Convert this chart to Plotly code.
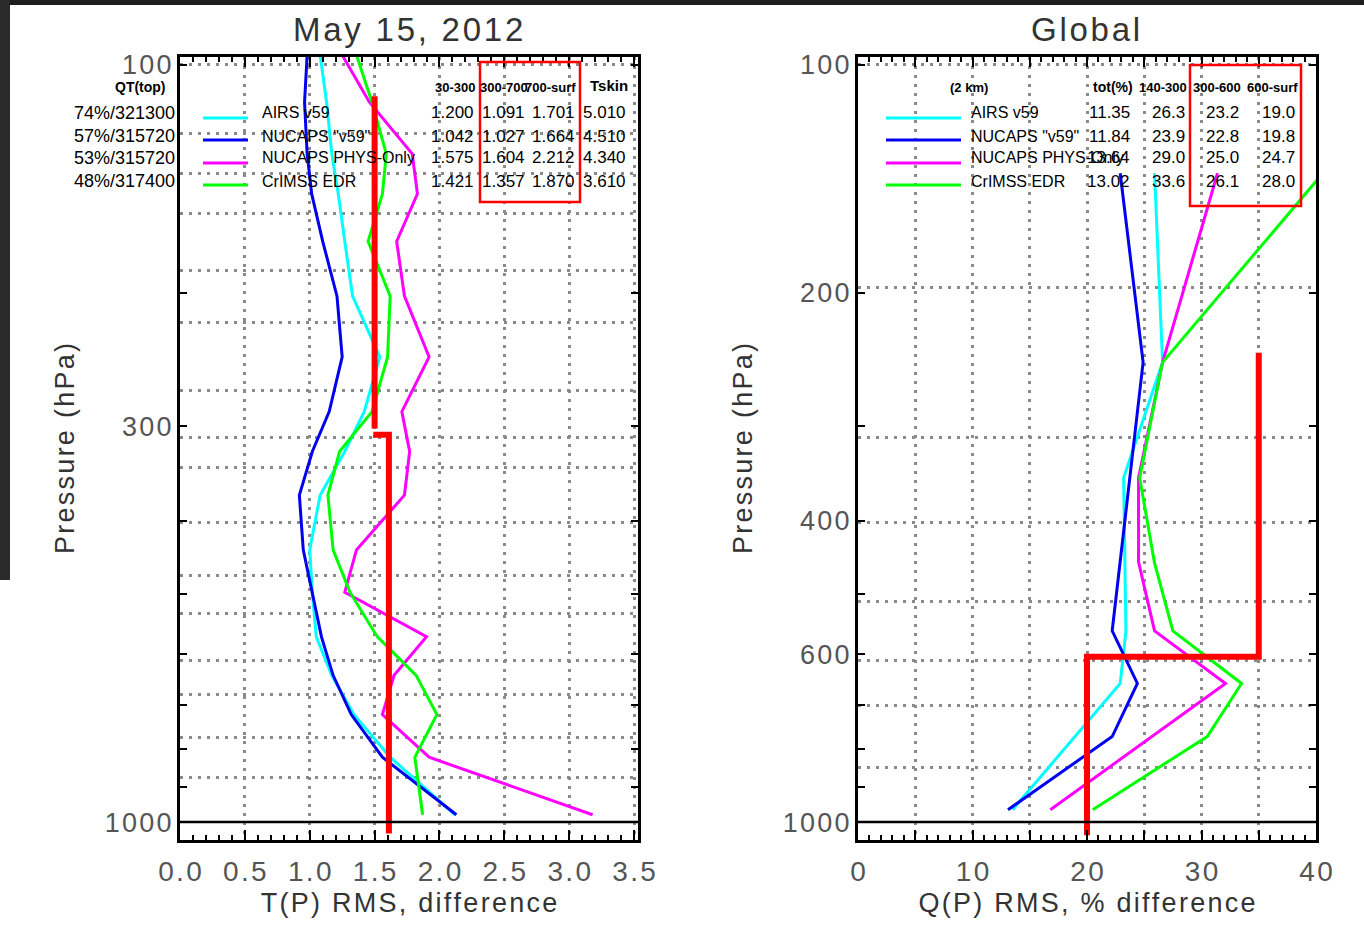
import math
import plotly.graph_objects as go

W, H = 1364, 943

# ---------------- data: temperature panel ----------------
P_T = [97, 112, 131, 148, 171, 202, 243, 287, 324, 370, 437, 497, 569, 640, 721, 821, 978]
T_AIRS = [1.08, 1.13, 1.17, 1.22, 1.27, 1.33, 1.54, 1.42, 1.27, 1.08, 1.00, 1.02, 1.05, 1.17, 1.34, 1.62, 2.12]
T_NUCAPS = [0.98, 0.96, 0.98, 1.015, 1.10, 1.21, 1.25, 1.15, 1.02, 0.92, 0.95, 1.02, 1.09, 1.18, 1.32, 1.56, 2.13]
T_PHYS = [1.25, 1.46, 1.79, 1.83, 1.67, 1.73, 1.92, 1.71, 1.77, 1.73, 1.36, 1.27, 1.90, 1.65, 1.56, 1.92, 3.18]
T_CRIMSS = [1.36, 1.48, 1.59, 1.56, 1.45, 1.62, 1.60, 1.48, 1.23, 1.14, 1.18, 1.31, 1.52, 1.82, 1.98, 1.81, 1.87]
T_REQ_X = [1.5, 1.5, None, 1.49, 1.61, 1.61]
T_REQ_P = [110, 302, None, 308, 308, 1035]

# ---------------- data: moisture panel ----------------
P_Q_AIRS = [139, 247, 351, 559, 656, 963]
Q_AIRS = [25.9, 26.6, 23.2, 23.4, 22.9, 13.5]
P_Q_NUCAPS = [139, 247, 559, 656, 771, 963]
Q_NUCAPS = [22.9, 24.9, 22.2, 24.4, 22.2, 13.1]
P_Q_PHYS = [139, 247, 351, 453, 559, 656, 963]
Q_PHYS = [31.4, 26.6, 24.5, 24.5, 25.9, 32.1, 16.8]
P_Q_CRIMSS = [139, 247, 351, 455, 559, 656, 771, 963]
Q_CRIMSS = [40.6, 26.6, 24.6, 25.9, 27.5, 33.5, 30.5, 20.5]
Q_REQ_X = [35, 35, 20, 20]
Q_REQ_P = [240, 605, 605, 1041]

# ---------------- tables / legend text ----------------
SERIES = ["AIRS v59", "NUCAPS \"v59\"", "NUCAPS PHYS-Only", "CrIMSS EDR"]
COLORS = ["#00FFFF", "#0000F0", "#FF00FF", "#00FF00"]
QT_TOP = ["74%/321300", "57%/315720", "53%/315720", "48%/317400"]
T_HEAD = ["30-300", "300-700", "700-surf", "Tskin"]
T_TABLE = [["1.200", "1.091", "1.701", "5.010"],
           ["1.042", "1.027", "1.664", "4.510"],
           ["1.575", "1.604", "2.212", "4.340"],
           ["1.421", "1.357", "1.870", "3.610"]]
Q_HEAD = ["tot(%)", "140-300", "300-600", "600-surf"]
Q_TABLE = [["11.35", "26.3", "23.2", "19.0"],
           ["11.84", "23.9", "22.8", "19.8"],
           ["13.64", "29.0", "25.0", "24.7"],
           ["13.02", "33.6", "26.1", "28.0"]]

# axis ticks / grids
T_XTICKS = [0, 0.5, 1.0, 1.5, 2.0, 2.5, 3.0, 3.5]
Q_XTICKS = [0, 5, 10, 15, 20, 25, 30, 35, 40]
Q_XLABELS = ["0", "", "10", "", "20", "", "30", "", "40"]
P_TICKS = [100, 200, 300, 400, 500, 600, 700, 800, 900, 1000]
T_PLABELS = ["100", "", "300", "", "", "", "", "", "", "1000"]
Q_PLABELS = ["100", "200", "", "400", "", "600", "", "", "", "1000"]
T_PGRID = [100, 123, 139, 157, 187, 219, 269, 310, 340, 402, 473, 530, 611, 679, 773, 874]
Q_PGRID = [100, 197, 310, 402, 512, 611, 702, 847]

HAIR = "\u200a"


def spaced(s):
    return HAIR.join(s)


def fx(px):
    return px / W


def fy(py):
    return 1 - py / H


fig = go.Figure()

t_series = [T_AIRS, T_NUCAPS, T_PHYS, T_CRIMSS]
for name, col, vals in zip(SERIES, COLORS, t_series):
    fig.add_trace(go.Scatter(x=vals, y=P_T, mode="lines", name=name,
                             line=dict(color=col, width=3), showlegend=False,
                             xaxis="x", yaxis="y"))
fig.add_trace(go.Scatter(x=T_REQ_X, y=T_REQ_P, mode="lines", line=dict(color="#FF0000", width=6),
                         showlegend=False, xaxis="x", yaxis="y"))

q_series = [(P_Q_AIRS, Q_AIRS), (P_Q_NUCAPS, Q_NUCAPS), (P_Q_PHYS, Q_PHYS), (P_Q_CRIMSS, Q_CRIMSS)]
for name, col, (pp, vals) in zip(SERIES, COLORS, q_series):
    fig.add_trace(go.Scatter(x=vals, y=pp, mode="lines", name=name,
                             line=dict(color=col, width=3), showlegend=False,
                             xaxis="x2", yaxis="y2"))
fig.add_trace(go.Scatter(x=Q_REQ_X, y=Q_REQ_P, mode="lines", line=dict(color="#FF0000", width=6),
                         showlegend=False, xaxis="x2", yaxis="y2"))

T_XRANGE = [0, 3.53]
Q_XRANGE = [0, 40]
# surface (1000 hPa) line
fig.add_trace(go.Scatter(x=T_XRANGE, y=[1000, 1000], mode="lines", line=dict(color="black", width=2.5),
                         showlegend=False, xaxis="x", yaxis="y"))
fig.add_trace(go.Scatter(x=Q_XRANGE, y=[1000, 1000], mode="lines", line=dict(color="black", width=2.5),
                         showlegend=False, xaxis="x2", yaxis="y2"))

YRANGE = [math.log10(1056), math.log10(97.6)]
sans = "Liberation Sans, Arial, sans-serif"
xtick_font = dict(family=sans, size=28, color="#555555")
ytick_font = dict(family=sans, size=27, color="#555555")
title_font = dict(family=sans, size=27, color="#333333")
grid_col = "#8a8a8a"
grid_dash = "2.5px,6.5px"

x_common = dict(showline=True, linewidth=3, linecolor="black", mirror="ticks",
                ticks="inside", ticklen=10, tickwidth=2, tickcolor="black",
                showgrid=True, gridcolor=grid_col, griddash=grid_dash, gridwidth=2.5,
                zeroline=False, tickfont=xtick_font, ticklabelstandoff=4, automargin=False)
y_common = dict(type="log", range=YRANGE, showline=True, linewidth=3, linecolor="black",
                mirror="ticks", ticks="inside", ticklen=7, tickwidth=2, tickcolor="black",
                showgrid=False, zeroline=False, tickvals=P_TICKS, tickfont=ytick_font,
                automargin=False)

fig.update_layout(
    width=W, height=H, margin=dict(l=0, r=0, t=0, b=0, pad=0, autoexpand=False),
    paper_bgcolor="white", plot_bgcolor="white",
    xaxis=dict(domain=[fx(180), fx(638)], range=T_XRANGE, anchor="y",
               tickvals=T_XTICKS, ticktext=[spaced("%.1f" % v) for v in T_XTICKS],
               minor=dict(dtick=0.1, ticks="inside", ticklen=5, tickwidth=2, tickcolor="black", showgrid=False),
               title=dict(text=spaced("T(P) RMS, difference"), font=title_font, standoff=8),
               **x_common),
    yaxis=dict(domain=[fy(840), fy(57)], anchor="x", ticktext=[spaced(t) for t in T_PLABELS],
               minor=dict(tickvals=T_PGRID, ticks="", showgrid=True, gridcolor=grid_col,
                          griddash=grid_dash, gridwidth=2.5),
               title=dict(text=spaced("Pressure (hPa)"), font=title_font, standoff=23),
               **y_common),
    xaxis2=dict(domain=[fx(858), fx(1316)], range=Q_XRANGE, anchor="y2",
                tickvals=Q_XTICKS, ticktext=[spaced(t) for t in Q_XLABELS],
                minor=dict(dtick=1, ticks="inside", ticklen=5, tickwidth=2, tickcolor="black", showgrid=False),
                title=dict(text=spaced("Q(P) RMS, % difference"), font=title_font, standoff=8),
                **x_common),
    yaxis2=dict(domain=[fy(840), fy(57)], anchor="x2", ticktext=[spaced(t) for t in Q_PLABELS],
                minor=dict(tickvals=Q_PGRID, ticks="", showgrid=True, gridcolor=grid_col,
                           griddash=grid_dash, gridwidth=2.5),
                title=dict(text=spaced("Pressure (hPa)"), font=title_font, standoff=23),
                **y_common),
)

ann = []
shapes = []


def text(s, px, py, size, anchor="left", bold=False, color="black"):
    ann.append(dict(text=("<b>%s</b>" % s) if bold else s, x=fx(px), y=fy(py),
                    xref="paper", yref="paper", xanchor=anchor, yanchor="middle",
                    showarrow=False, font=dict(family=sans, size=size, color=color)))


def seg(x0, y0, x1, y1, color, width):
    shapes.append(dict(type="line", xref="paper", yref="paper", x0=fx(x0), y0=fy(y0),
                       x1=fx(x1), y1=fy(y1), line=dict(color=color, width=width)))


def rect(x0, y0, x1, y1, color, width):
    shapes.append(dict(type="rect", xref="paper", yref="paper", x0=fx(x0), y0=fy(y0),
                       x1=fx(x1), y1=fy(y1), line=dict(color=color, width=width)))


# titles
text(spaced("May 15, 2012"), 408, 30, 33, "center", color="#333333")
text(spaced("Global"), 1085, 30, 33, "center", color="#333333")

ROW_Y = [113, 136, 158, 181]
LINE_Y = [118, 140, 163, 185]

# left panel table
text("QT(top)", 168, 87, 14, "right", bold=True)
for r in range(4):
    text(QT_TOP[r], 177, ROW_Y[r], 18, "right")
    seg(203, LINE_Y[r], 248, LINE_Y[r], COLORS[r], 3)
    text(SERIES[r], 260, ROW_Y[r], 16, "left")
T_COL_R = [476, 527, 577, 628]
T_HEAD_L = [433, 478, 523, 588]
for c in range(4):
    if c < 3:
        text(T_HEAD[c], T_HEAD_L[c], 87, 13, "left", bold=True)
    else:
        text(T_HEAD[c], T_HEAD_L[c], 86, 15, "left", bold=True)
    for r in range(4):
        text(T_TABLE[r][c], T_COL_R[c], ROW_Y[r], 17, "right")
rect(480, 62, 580, 202, "#FF0000", 2.5)

# right panel table
text("(2 km)", 948, 87, 13, "left", bold=True)
for r in range(4):
    seg(886, LINE_Y[r], 961, LINE_Y[r], COLORS[r], 3)
    text(SERIES[r], 969, ROW_Y[r], 16, "left")
Q_COL_R = [1132, 1187, 1241, 1297]
Q_HEAD_L = [1091, 1137, 1191, 1245]
for c in range(4):
    text(Q_HEAD[c], Q_HEAD_L[c], 87, 14 if c == 0 else 13, "left", bold=True)
    for r in range(4):
        text(Q_TABLE[r][c], Q_COL_R[c], ROW_Y[r], 17, "right")
rect(1190, 65, 1301, 206, "#FF0000", 2.5)

# dark slide background edges
shapes.append(dict(type="rect", xref="paper", yref="paper", x0=0, x1=1, y0=fy(5), y1=1,
                   fillcolor="#1e1e1e", line=dict(width=0), layer="below"))
shapes.append(dict(type="rect", xref="paper", yref="paper", x0=0, x1=fx(10), y0=fy(580), y1=1,
                   fillcolor="#2a2a2a", line=dict(width=0), layer="below"))

fig.update_layout(annotations=ann, shapes=shapes)
fig.write_html("out.html", config={"displayModeBar": False},
               post_script="document.body.style.margin='0';document.body.style.overflow='hidden';")
